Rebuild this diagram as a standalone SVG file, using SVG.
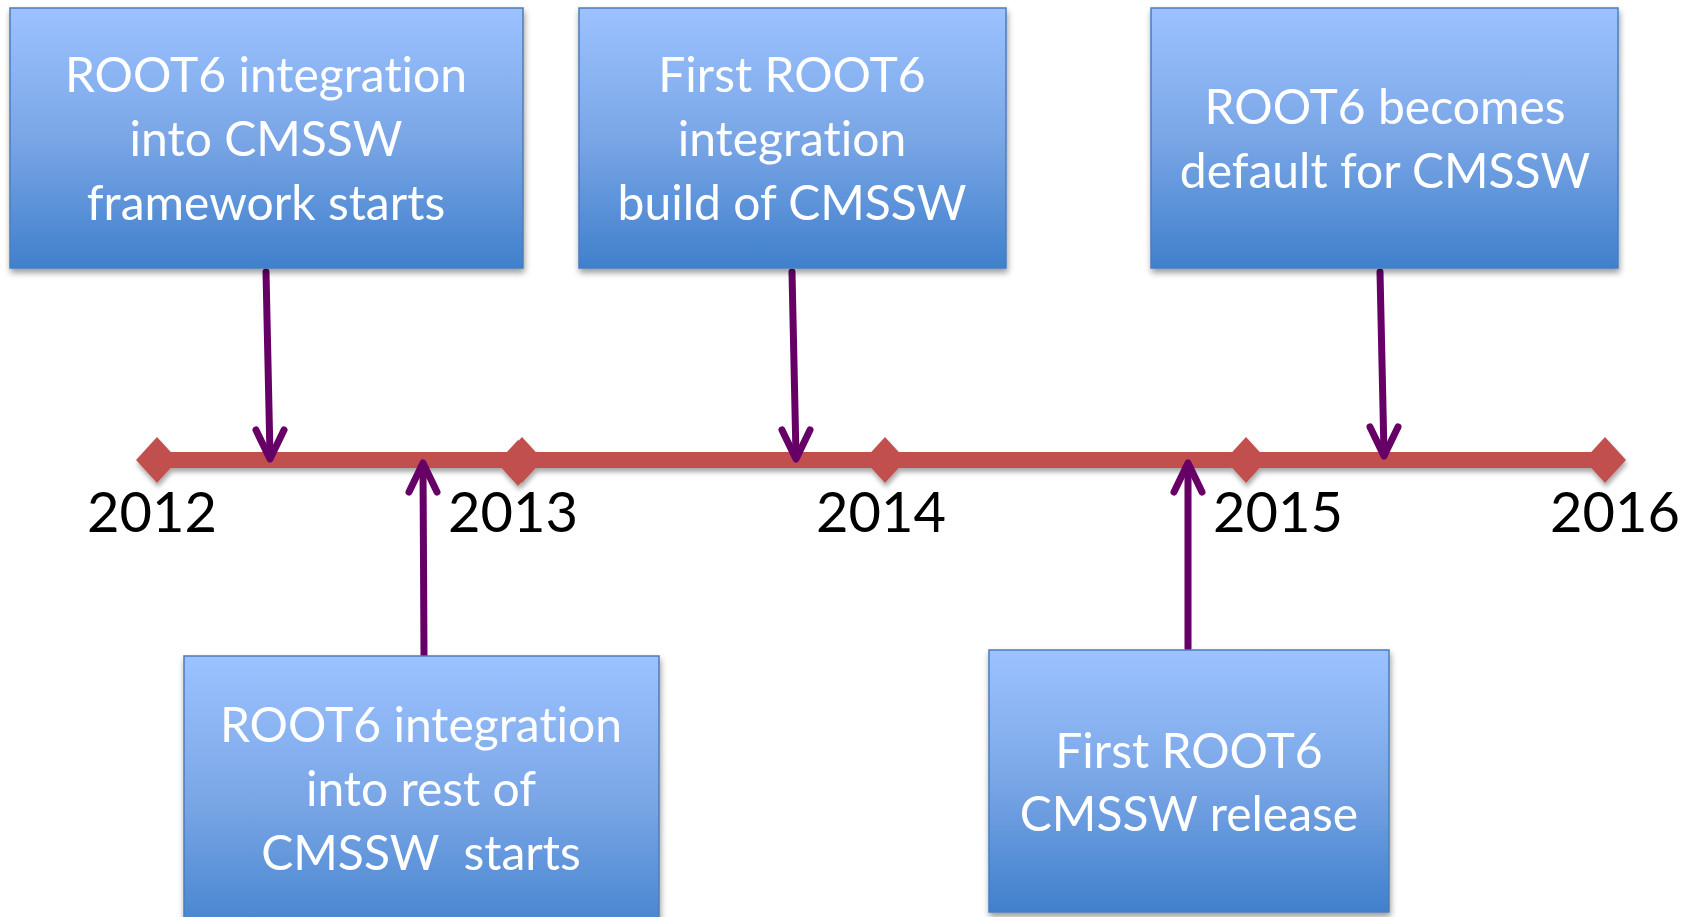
<svg xmlns="http://www.w3.org/2000/svg" width="1694" height="917" viewBox="0 0 1694 917">
<defs>
<linearGradient id="boxg" x1="0" y1="0" x2="0" y2="1">
<stop offset="0" stop-color="#9cc2ff"/>
<stop offset="0.5" stop-color="#7aa6e6"/>
<stop offset="1" stop-color="#4080cc"/>
</linearGradient>
<filter id="sh" x="-10%" y="-10%" width="120%" height="130%">
<feGaussianBlur in="SourceAlpha" stdDeviation="3"/>
<feOffset dx="1" dy="4" result="b"/>
<feComponentTransfer><feFuncA type="linear" slope="0.4"/></feComponentTransfer>
<feMerge><feMergeNode/><feMergeNode in="SourceGraphic"/></feMerge>
</filter>
<filter id="lsh" x="-5%" y="-50%" width="110%" height="200%">
<feGaussianBlur in="SourceAlpha" stdDeviation="2.5"/>
<feOffset dx="1" dy="4" result="b"/>
<feComponentTransfer><feFuncA type="linear" slope="0.35"/></feComponentTransfer>
<feMerge><feMergeNode/><feMergeNode in="SourceGraphic"/></feMerge>
</filter>
</defs>
<style>
.box{fill:url(#boxg);stroke:#4a7ebb;stroke-width:1.5}
.bt{font-family:Lato,"Liberation Sans",sans-serif;font-size:48px;fill:#ffffff;text-anchor:middle;font-variant-ligatures:none}
.yr{font-family:Lato,"Liberation Sans",sans-serif;font-size:56px;fill:#000000;text-anchor:middle}
.tl{stroke:#c0504d;stroke-width:16;fill:none}
.dm{fill:#c0504d}
.ar{stroke:#660066;stroke-width:7;fill:none;stroke-linecap:round;stroke-linejoin:round}
</style>
<rect width="1694" height="917" fill="#ffffff"/>

<g id="timeline" filter="url(#lsh)">
<line class="tl" x1="157" y1="460" x2="1605" y2="460"/>
<polygon class="dm" points="157,437 178,460 157,483 136,460"/>
<polygon class="dm" points="518,440 539,463 518,486 497,463"/>
<polygon class="dm" points="522,437 543,460 522,483 501,460"/>
<polygon class="dm" points="885,437 906,460 885,483 864,460"/>
<polygon class="dm" points="1246,437 1267,460 1246,483 1225,460"/>
<polygon class="dm" points="1605,437 1626,460 1605,483 1584,460"/>
</g>

<g id="years">
<text class="yr" x="152" y="532">2012</text>
<text class="yr" x="513" y="532">2013</text>
<text class="yr" x="881" y="532">2014</text>
<text class="yr" x="1278" y="532">2015</text>
<text class="yr" x="1615" y="532">2016</text>
</g>

<g id="connectors">
<path class="ar" d="M266,272 L270,456"/>
<path class="ar" d="M256,430 L270,459 L284,430"/>
<path class="ar" d="M424,655 L423,466"/>
<path class="ar" d="M409,492 L423,463 L437,492"/>
<path class="ar" d="M792,272 L796,456"/>
<path class="ar" d="M782,430 L796,459 L810,430"/>
<path class="ar" d="M1188,648 L1188,466"/>
<path class="ar" d="M1174,492 L1188,463 L1202,492"/>
<path class="ar" d="M1380,272 L1384,454"/>
<path class="ar" d="M1370,427 L1384,456 L1398,427"/>
</g>

<g id="node1" filter="url(#sh)">
<rect class="box" x="10" y="8" width="513" height="260"/>
<text class="bt" x="266" y="92">ROOT6 integration</text>
<text class="bt" x="266" y="156">into CMSSW</text>
<text class="bt" x="266" y="220">framework starts</text>
</g>

<g id="node2" filter="url(#sh)">
<rect class="box" x="579" y="8" width="427" height="260"/>
<text class="bt" x="792" y="92">First ROOT6</text>
<text class="bt" x="792" y="156">integration</text>
<text class="bt" x="792" y="220">build of CMSSW</text>
</g>

<g id="node3" filter="url(#sh)">
<rect class="box" x="1151" y="8" width="467" height="260"/>
<text class="bt" x="1385" y="124">ROOT6 becomes</text>
<text class="bt" x="1385" y="188">default for CMSSW</text>
</g>

<g id="node4" filter="url(#sh)">
<rect class="box" x="184" y="656" width="475" height="290"/>
<text class="bt" x="421" y="742">ROOT6 integration</text>
<text class="bt" x="421" y="806">into rest of</text>
<text class="bt" x="421" y="870" xml:space="preserve">CMSSW  starts</text>
</g>

<g id="node5" filter="url(#sh)">
<rect class="box" x="989" y="650" width="400" height="262"/>
<text class="bt" x="1189" y="768">First ROOT6</text>
<text class="bt" x="1189" y="831">CMSSW release</text>
</g>
</svg>
